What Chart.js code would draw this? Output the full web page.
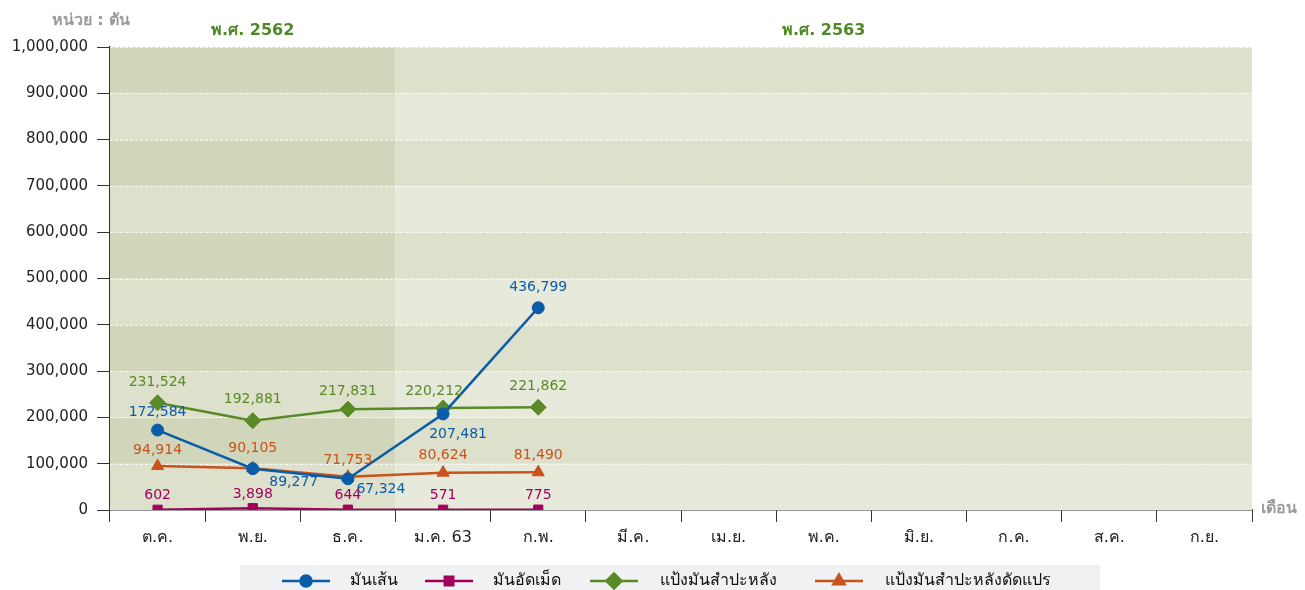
<!DOCTYPE html>
<html>
<head>
<meta charset="utf-8">
<script src="https://cdn.jsdelivr.net/npm/chart.js@4"></script>
<style>
  html, body { margin: 0; padding: 0; background: #fff; }
  #wrap { position: relative; width: 1305px; height: 590px; }
</style>
</head>
<body>
<div id="wrap"><canvas id="canvas" width="1305" height="590"></canvas></div>
<script>
const months = ['ต.ค.', 'พ.ย.', 'ธ.ค.', 'ม.ค. 63', 'ก.พ.', 'มี.ค.', 'เม.ย.', 'พ.ค.', 'มิ.ย.', 'ก.ค.', 'ส.ค.', 'ก.ย.'];
const seriesNames = ['มันเส้น', 'มันอัดเม็ด', 'แป้งมันสำปะหลัง', 'แป้งมันสำปะหลังดัดแปร'];
const chips = [172584, 89277, 67324, 207481, 436799];
const pellets = [602, 3898, 644, 571, 775];
const starch = [231524, 192881, 217831, 220212, 221862];
const modStarch = [94914, 90105, 71753, 80624, 81490];
const yTicks = [0, 100000, 200000, 300000, 400000, 500000, 600000, 700000, 800000, 900000, 1000000];
const yearLabels = ['พ.ศ. 2562', 'พ.ศ. 2563'];

const colors = ['#0b5ca8', '#a3005e', '#5a8a28', '#c8531b'];
const shapes = ['circle', 'rect', 'rectRot', 'triangle'];
const radii = [6, 6.5, 8, 7];
// label offsets from each point [dx, dy]
const labelOffsets = [
  [[0, -18], [41, 14], [33, 11], [15, 20], [0, -20]],
  [[0, -14], [0, -14], [0, -14], [0, -14], [0, -14]],
  [[0, -20], [0, -21], [0, -18], [-9, -17], [0, -21]],
  [[0, -16], [0, -20], [0, -16], [0, -17], [0, -17]]
];

const fontFam = "Tahoma, 'DejaVu Sans', 'Noto Sans', sans-serif";

const bands = {
  id: 'bands',
  beforeDatasetsDraw(chart) {
    const { ctx, chartArea: a, scales: { x, y } } = chart;
    const split = x.getPixelForValue(2.5);
    ctx.save();
    for (let i = 0; i < yTicks.length - 1; i++) {
      const top = y.getPixelForValue(yTicks[i + 1]);
      const bot = y.getPixelForValue(yTicks[i]);
      const dark = i % 2 === 1;
      ctx.fillStyle = dark ? '#d1d5b9' : '#dde0cb';
      ctx.fillRect(a.left, top, split - a.left, bot - top);
      ctx.fillStyle = dark ? '#dde0cb' : '#e7e9da';
      ctx.fillRect(split, top, a.right - split, bot - top);
    }
    ctx.strokeStyle = 'rgba(255,255,255,0.75)';
    ctx.lineWidth = 1;
    ctx.setLineDash([3, 2]);
    for (let i = 1; i < yTicks.length; i++) {
      const py = Math.round(y.getPixelForValue(yTicks[i])) + 0.5;
      ctx.beginPath();
      ctx.moveTo(a.left, py);
      ctx.lineTo(a.right, py);
      ctx.stroke();
    }
    ctx.restore();
  },
  afterDatasetsDraw(chart) {
    const { ctx, chartArea: a, scales: { x } } = chart;
    ctx.save();
    // data labels
    ctx.font = '14px ' + fontFam;
    ctx.textAlign = 'center';
    ctx.textBaseline = 'middle';
    chart.data.datasets.forEach((ds, di) => {
      const meta = chart.getDatasetMeta(di);
      meta.data.forEach((pt, i) => {
        const o = labelOffsets[di][i];
        ctx.fillStyle = colors[di];
        ctx.fillText(ds.data[i].toLocaleString('en-US'), pt.x + o[0], pt.y + o[1]);
      });
    });
    // year headers
    const split = x.getPixelForValue(2.5);
    ctx.font = 'bold 16px ' + fontFam;
    ctx.fillStyle = '#4f8a26';
    ctx.fillText(yearLabels[0], (a.left + split) / 2, 31);
    ctx.fillText(yearLabels[1], (split + a.right) / 2, 31);
    // unit labels
    ctx.fillStyle = '#9a9a9a';
    ctx.font = 'bold 16px ' + fontFam;
    ctx.fillText('หน่วย : ตัน', 91, 21);
    ctx.textAlign = 'left';
    ctx.fillText('เดือน', 1261, 509);
    // legend
    ctx.fillStyle = '#f0f1f3';
    ctx.fillRect(240, 565, 860, 25);
    const items = [[282, 350], [425, 493], [590, 660], [815, 885]];
    items.forEach((it, k) => {
      const ly = 581;
      ctx.strokeStyle = colors[k];
      ctx.lineWidth = 2.5;
      ctx.beginPath();
      ctx.moveTo(it[0], ly);
      ctx.lineTo(it[0] + 48, ly);
      ctx.stroke();
      Chart.helpers.drawPoint(ctx, { pointStyle: shapes[k], radius: radii[k] - 0.5, borderWidth: 1 }, it[0] + 24, ly);
      ctx.fillStyle = colors[k];
      ctx.fill();
      ctx.fillStyle = '#111';
      ctx.font = '16px ' + fontFam;
      ctx.textAlign = 'left';
      ctx.fillText(seriesNames[k], it[1], ly);
    });
    ctx.restore();
  }
};

const sets = [chips, pellets, starch, modStarch].map((d, k) => ({
  label: seriesNames[k],
  data: d,
  borderColor: colors[k],
  backgroundColor: colors[k],
  borderWidth: 2.5,
  pointStyle: shapes[k],
  pointRadius: radii[k],
  pointBorderWidth: 1,
  pointHoverRadius: radii[k],
  tension: 0
}));

new Chart(document.getElementById('canvas').getContext('2d'), {
  type: 'line',
  data: { labels: months, datasets: sets },
  plugins: [bands],
  options: {
    responsive: false,
    animation: false,
    events: [],
    layout: { padding: { top: 47, right: 53, left: 0, bottom: 0 } },
    plugins: { legend: { display: false }, tooltip: { enabled: false } },
    scales: {
      y: {
        min: 0,
        max: 1000000,
        afterFit(s) { s.width = 110; },
        afterBuildTicks(s) { s.ticks = yTicks.map(v => ({ value: v })); },
        ticks: {
          color: '#222',
          padding: 9,
          font: { size: 15, family: fontFam },
          callback: v => v.toLocaleString('en-US')
        },
        grid: { drawOnChartArea: false, tickColor: '#333', tickLength: 13, tickWidth: 1 },
        border: { color: '#333', width: 1.5 }
      },
      x: {
        offset: true,
        afterFit(s) { s.height = 80; },
        ticks: { color: '#222', padding: 6, font: { size: 16, family: fontFam } },
        grid: { offset: true, drawOnChartArea: false, tickColor: '#333', tickLength: 12, tickWidth: 1 },
        border: { color: '#333', width: 1.5 }
      }
    }
  }
});
</script>
</body>
</html>
